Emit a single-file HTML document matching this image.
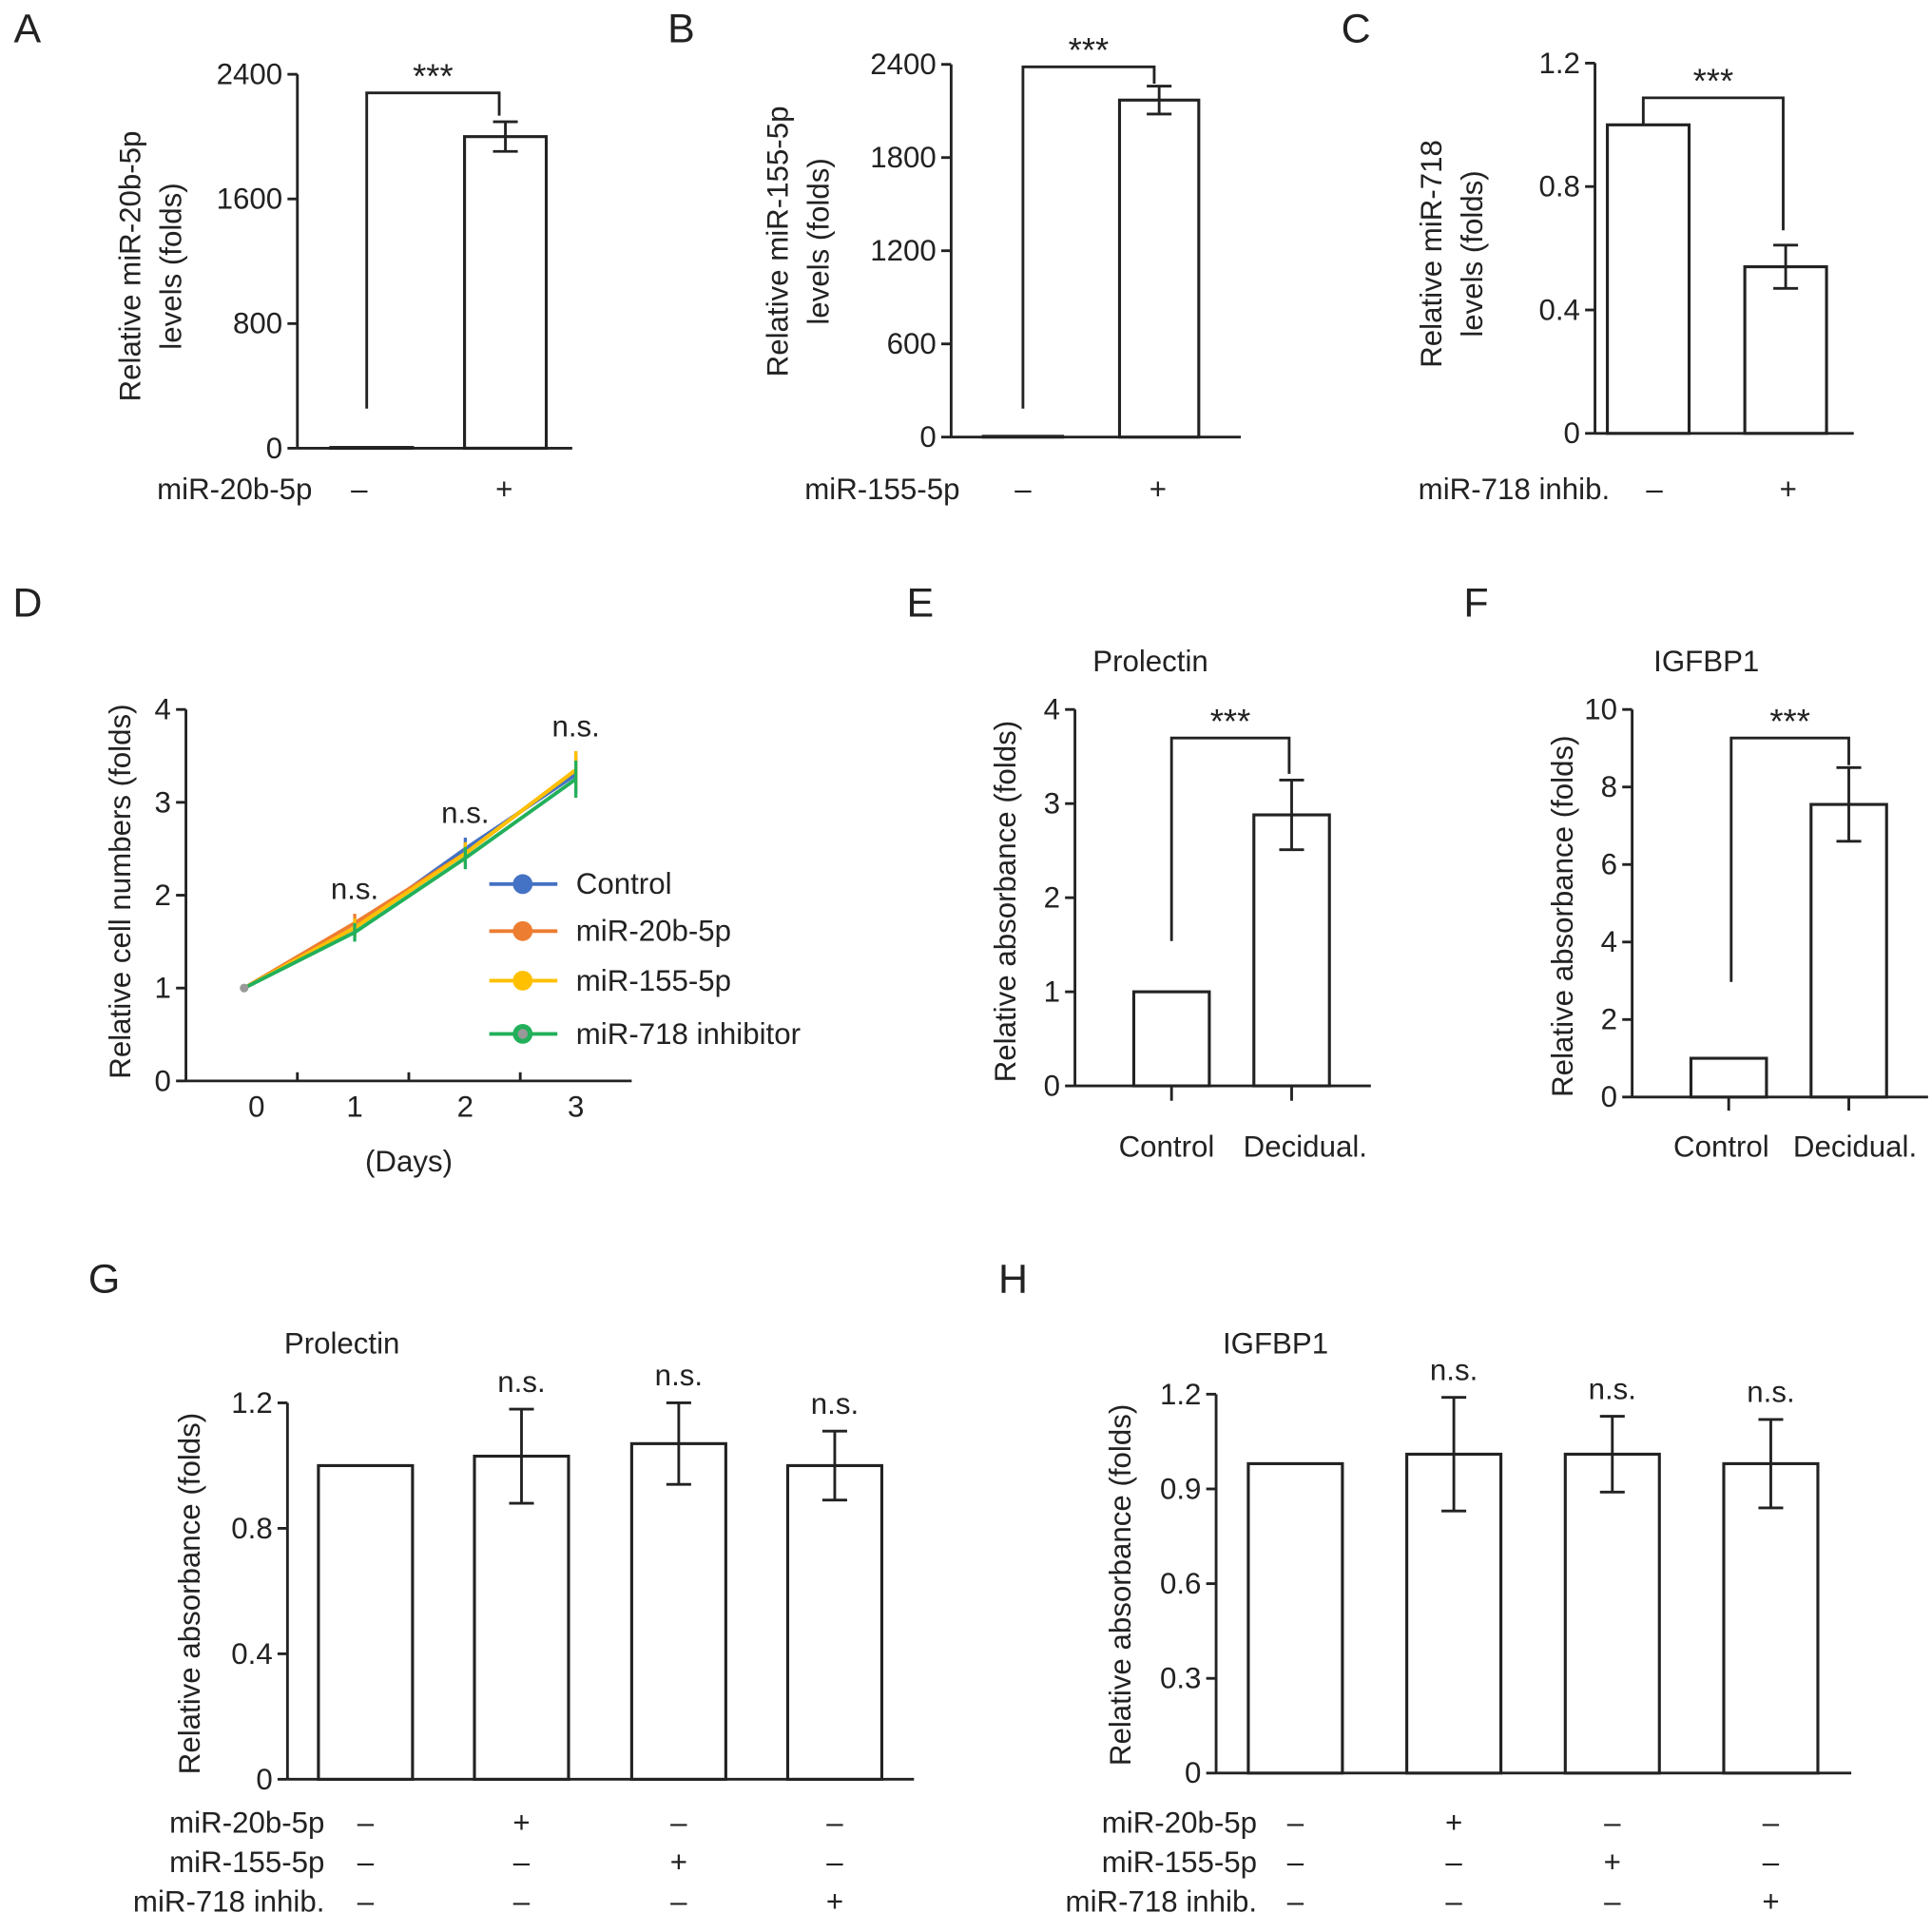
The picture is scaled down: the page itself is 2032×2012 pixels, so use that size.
<!DOCTYPE html>
<html><head><meta charset="utf-8"><style>
html,body{margin:0;padding:0;background:#fff}
svg{display:block}
text{font-family:"Liberation Sans",Arial,sans-serif;fill:#222}
</style></head><body>
<svg id="fig" width="2032" height="2012" viewBox="0 0 1560 1545" xmlns="http://www.w3.org/2000/svg"></svg>
<script>
// ---- data ----
const aValues=[5,2000], aErr=[0,95], aTicks=[0,800,1600,2400];
const bValues=[5,2170], bErr=[0,90], bTicks=[0,600,1200,1800,2400];
const cValues=[1.0,0.54], cErr=[0,0.07], cTicks=[0,0.4,0.8,1.2];
const dDays=[0,1,2,3], dTicks=[0,1,2,3,4];
const dSeriesNames=["Control","miR-20b-5p","miR-155-5p","miR-718 inhibitor"];
const dControl=[1,1.65,2.5,3.3];
const dMir20b=[1,1.7,2.45,3.35];
const dMir155=[1,1.65,2.45,3.35];
const dInhib=[1,1.6,2.4,3.25];
const dErr=[0,0.1,0.12,0.2];
const eCats=["Control","Decidual."], eValues=[1.0,2.88], eErr=[0,0.37], eTicks=[0,1,2,3,4];
const fCats=["Control","Decidual."], fValues=[1.0,7.55], fErr=[0,0.95], fTicks=[0,2,4,6,8,10];
const gValues=[1.0,1.03,1.07,1.0], gErr=[0,0.15,0.13,0.11], gTicks=[0,0.4,0.8,1.2];
const hValues=[0.98,1.01,1.01,0.98], hErr=[0,0.18,0.12,0.14], hTicks=[0,0.3,0.6,0.9,1.2];
const ghRows=["miR-20b-5p","miR-155-5p","miR-718 inhib."];
const ghSigns=[["–","+","–","–"],["–","–","+","–"],["–","–","–","+"]];

const FS=24;
const NS="http://www.w3.org/2000/svg";
const svg=document.getElementById('fig');
function el(tag,attrs,parent,txt){const e=document.createElementNS(NS,tag);for(const k in attrs)e.setAttribute(k,attrs[k]);if(txt!==undefined)e.textContent=txt;(parent||svg).appendChild(e);return e;}
function line(x1,y1,x2,y2,p,w){return el('line',{x1,y1,x2,y2,stroke:'#222','stroke-width':w||2.2},p);}
function txt(x,y,s,size,anchor,p,extra){const a={x,y,'font-size':size,'text-anchor':anchor||'middle'};if(extra)for(const k in extra)a[k]=extra[k];return el('text',a,p,s);}

function panel(name){const g=el('g',{});return g;}
function letter(s,x,y){const t=txt(x,y,s,33,'middle');}

function yAxis(g,x,y0,y1,ticks,max,fmt,xEnd){
  const sy=v=>y0-(v/max)*(y0-y1);
  const ax=el('g',{},g);
  line(x,y0,x,y1,ax);line(x,y0,xEnd,y0,ax);
  ticks.forEach(t=>{const y=sy(t);line(x-8,y,x,y,ax);const l=txt(x-12,y+8,fmt?fmt(t):String(t),FS,'end',ax);});
  return sy;
}
function ylabel(g,lines,x,cy){lines.forEach((s,i)=>{const t=txt(x+i*33,cy,s,FS,'middle',g,{transform:`rotate(-90 ${x+i*33} ${cy})`});});}
function bars(g,vals,errs,centers,w,sy,y0){
  vals.forEach((v,i)=>{const r=el('rect',{x:centers[i]-w/2,y:sy(v),width:w,height:y0-sy(v),fill:'#fff',stroke:'#222','stroke-width':2.4},g);
    
    if(errs[i]>0){const e=el('g',{},g);
      const t=sy(v+errs[i]),b=sy(v-errs[i]);line(centers[i],t,centers[i],b,e);line(centers[i]-10,t,centers[i]+10,t,e);line(centers[i]-10,b,centers[i]+10,b,e);}});
}
function bracket(g,x1,ya,x2,yb,ytop,label){const b=el('g',{},g);
  el('polyline',{points:`${x1},${ya} ${x1},${ytop} ${x2},${ytop} ${x2},${yb}`,fill:'none',stroke:'#222','stroke-width':2.2},b);
  txt((x1+x2)/2,ytop-4,label,28,'middle',b);}

// A
letter('A',22,34);
{const g=panel('panel-a');const sy=yAxis(g,240,362,60,aTicks,2400,null,462);
bars(g,aValues,aErr,[300,408],66,sy,362);bracket(g,296,330,403,sy(aValues[1]+aErr[1])-5,75,'***');
ylabel(g,['Relative miR-20b-5p','levels (folds)'],113,215);
txt(252,403,'miR-20b-5p',FS,'end',g);txt(290,403,'–',FS,'middle',g);txt(407,403,'+',FS,'middle',g);}
// B
letter('B',550,34);
{const g=panel('panel-b');const sy=yAxis(g,768,353,52,bTicks,2400,null,1002);
bars(g,bValues,bErr,[826,936],64,sy,353);bracket(g,826,330,932,sy(bValues[1]+bErr[1])-2,54,'***');
ylabel(g,['Relative miR-155-5p','levels (folds)'],636,195);
txt(775,403,'miR-155-5p',FS,'end',g);txt(826,403,'–',FS,'middle',g);txt(935,403,'+',FS,'middle',g);}
// C
letter('C',1095,34);
{const g=panel('panel-c');const sy=yAxis(g,1288,350,51,cTicks,1.2,t=>t===0?'0':t.toFixed(1),1497);
bars(g,cValues,cErr,[1331,1442],66,sy,350);bracket(g,1327,sy(cValues[0]),1440,sy(cValues[1]+cErr[1])-12,79,'***');
ylabel(g,['Relative miR-718','levels (folds)'],1164,205);
txt(1300,403,'miR-718 inhib.',FS,'end',g);txt(1336,403,'–',FS,'middle',g);txt(1444,403,'+',FS,'middle',g);}
// D
letter('D',22,498);
{const g=panel('panel-d');const sy=yAxis(g,150,873,573,dTicks,4,null,510);
const sx=d=>197+d*89.3;
[240,330,420].forEach(x=>line(x,873,x,866,g));
dDays.forEach(d=>{const l=txt(sx(d)+(d===0?10:0),902,String(d),FS,'middle',g);});
txt(330,946,'(Days)',FS,'middle',g);
ylabel(g,['Relative cell numbers (folds)'],105,720);
const series=[dControl,dMir20b,dMir155,dInhib],cols=['#4472c4','#ed7d31','#ffc000','#22b05a'];
series.forEach((s,i)=>{const sg=el('g',{},g);
  el('polyline',{points:s.map((v,j)=>sx(dDays[j])+','+sy(v)).join(' '),fill:'none',stroke:cols[i],'stroke-width':3},sg);
  s.forEach((v,j)=>{if(dErr[j]>0){el('line',{x1:sx(dDays[j]),y1:sy(v+dErr[j]),x2:sx(dDays[j]),y2:sy(v-dErr[j]),stroke:cols[i],'stroke-width':2.5},sg);}});
});
el('circle',{cx:sx(0),cy:sy(1),r:3.5,fill:'#999'},g);
[1,2,3].forEach(d=>{const m=Math.max(dControl[d],dMir20b[d],dMir155[d],dInhib[d]);const t=txt(sx(d),sy(m+dErr[d])-12,'n.s.',FS,'middle',g);});
const ly=[714,752,792,835];
dSeriesNames.forEach((n,i)=>{const lg=el('g',{},g);
  el('line',{x1:395,y1:ly[i],x2:450,y2:ly[i],stroke:cols[i],'stroke-width':3},lg);
  el('circle',{cx:422,cy:ly[i],r:8,fill:cols[i]},lg);
  if(i===3)el('circle',{cx:422,cy:ly[i],r:4,fill:'#999'},lg);
  txt(465,ly[i]+8,n,FS,'start',lg);});
}
// E
letter('E',743,498);
{const g=panel('panel-e');txt(929,542,'Prolectin',FS,'middle',g);
const sy=yAxis(g,868,877,573,eTicks,4,null,1107);
const cx=[946,1043];bars(g,eValues,eErr,cx,61,sy,877);cx.forEach(x=>line(x,877,x,889,g));
bracket(g,946,760,1041,sy(eValues[1]+eErr[1])-5,596,'***');
eCats.forEach((c,i)=>txt([942,1054][i],934,c,FS,'middle',g));
ylabel(g,['Relative absorbance (folds)'],820,728);}
// F
letter('F',1192,498);
{const g=panel('panel-f');txt(1378,542,'IGFBP1',FS,'middle',g);
const sy=yAxis(g,1318,886,573,fTicks,10,null,1557);
const cx=[1396,1493];bars(g,fValues,fErr,cx,61,sy,886);cx.forEach(x=>line(x,886,x,897,g));
bracket(g,1398,793,1493,sy(fValues[1]+fErr[1])-2,596,'***');
fCats.forEach((c,i)=>txt([1390,1498][i],934,c,FS,'middle',g));
ylabel(g,['Relative absorbance (folds)'],1270,740);}
// G & H
function ghPanel(nm,title,tx,ax,y0,y1,ticks,max,vals,errs,cx,xEnd,rowX,ylx,ylc){
  const g=panel(nm);txt(tx,1093,title,FS,'middle',g);
  const sy=yAxis(g,ax,y0,y1,ticks,max,t=>t===0?'0':t.toFixed(1),xEnd);
  bars(g,vals,errs,cx,76,sy,y0);
  vals.forEach((v,i)=>{if(errs[i]>0){const t=txt(cx[i],sy(v+errs[i])-14,'n.s.',FS,'middle',g);}});
  ghRows.forEach((r,ri)=>{const y=1480+ri*32;txt(rowX,y,r,FS,'end',g);ghSigns[ri].forEach((s,i)=>txt(cx[i],y,s,FS,'middle',g));});
  ylabel(g,['Relative absorbance (folds)'],ylx,ylc);
}
letter('G',84,1044);
ghPanel('panel-g','Prolectin',276,232,1437,1133,gTicks,1.2,gValues,gErr,[295,421,548,674],738,262,161,1287);
letter('H',818,1044);
ghPanel('panel-h','IGFBP1',1030,982,1432,1126,hTicks,1.2,hValues,hErr,[1046,1174,1302,1430],1495,1015,913,1280);
</script>
</body></html>
